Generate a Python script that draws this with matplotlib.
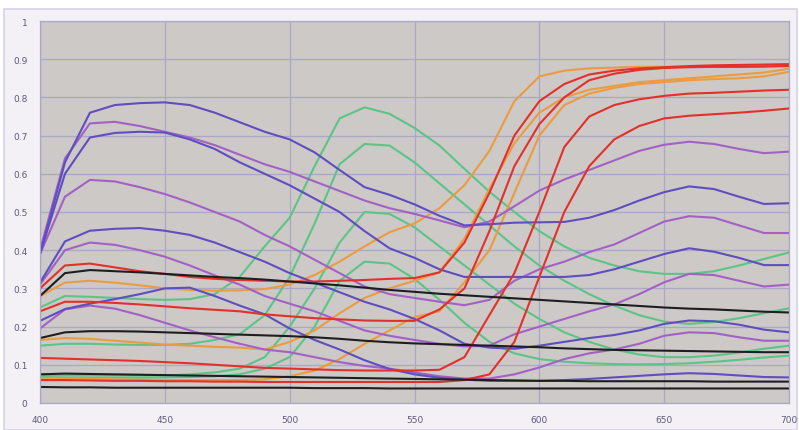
import matplotlib
matplotlib.use("Agg")
import matplotlib.pyplot as plt
from matplotlib.patches import Rectangle

# wavelength grid (nm)
wl = [400, 410, 420, 430, 440, 450, 460, 470, 480, 490, 500,
      510, 520, 530, 540, 550, 560, 570, 580, 590, 600,
      610, 620, 630, 640, 650, 660, 670, 680, 690, 700]

# blue-violet family
B1 = [.39, .63, .76, .78, .785, .787, .78, .76, .735, .71, .69,
      .656, .61, .565, .545, .52, .49, .465, .468, .472, .473,
      .474, .485, .505, .53, .552, .567, .56, .54, .521, .523]
B2 = [.39, .60, .695, .707, .71, .708, .69, .665, .63, .60, .57,
      .535, .50, .45, .405, .38, .35, .33, .33, .33, .33,
      .33, .335, .35, .37, .39, .405, .396, .38, .361, .361]
B3 = [.315, .423, .451, .456, .458, .451, .44, .42, .395, .37, .34,
      .315, .29, .265, .245, .22, .19, .155, .145, .142, .15,
      .16, .17, .178, .19, .207, .216, .214, .205, .192, .185]
B4 = [.215, .246, .26, .272, .285, .30, .302, .28, .255, .232, .195,
      .165, .14, .112, .089, .075, .066, .061, .058, .058, .058,
      .06, .063, .067, .071, .075, .078, .076, .072, .068, .067]

# purple family
P1 = [.40, .64, .732, .736, .725, .71, .695, .675, .65, .625, .605,
      .58, .555, .53, .51, .495, .478, .46, .475, .515, .556,
      .585, .61, .635, .66, .676, .684, .678, .665, .654, .658]
P2 = [.39, .54, .584, .58, .565, .547, .525, .50, .475, .44, .41,
      .375, .34, .305, .285, .275, .265, .256, .27, .32, .35,
      .37, .395, .415, .445, .475, .489, .485, .465, .445, .445]
P3 = [.31, .40, .42, .414, .40, .383, .36, .334, .31, .28, .26,
      .24, .215, .19, .176, .165, .155, .148, .15, .18, .20,
      .22, .24, .258, .285, .316, .338, .335, .32, .305, .31]
P4 = [.195, .245, .255, .247, .23, .21, .19, .172, .155, .14, .133,
      .12, .107, .097, .09, .08, .07, .064, .064, .075, .093,
      .115, .13, .14, .155, .176, .185, .183, .172, .163, .163]

# red family
R1 = [.30, .36, .365, .355, .345, .338, .33, .325, .322, .32, .318,
      .318, .32, .322, .325, .327, .342, .42, .55, .70, .79,
      .835, .86, .87, .876, .879, .882, .884, .885, .886, .887]
R2 = [.24, .265, .265, .262, .258, .253, .248, .244, .24, .232, .227,
      .222, .219, .216, .215, .215, .245, .30, .45, .62, .73,
      .80, .845, .862, .872, .877, .879, .88, .88, .881, .882]
R3 = [.118, .116, .114, .112, .11, .107, .104, .1, .096, .092, .09,
      .088, .086, .085, .085, .085, .087, .12, .23, .34, .50,
      .67, .75, .78, .795, .804, .81, .812, .815, .818, .82]
R4 = [.06, .06, .059, .058, .058, .057, .057, .056, .056, .055, .055,
      .055, .055, .055, .055, .055, .055, .06, .075, .16, .33,
      .50, .62, .69, .725, .745, .752, .756, .76, .765, .771]

# orange family
O1 = [.28, .315, .32, .315, .308, .30, .296, .294, .295, .298, .31,
      .335, .37, .41, .447, .47, .51, .57, .66, .79, .855,
      .87, .876, .878, .88, .88, .88, .88, .88, .88, .885]
O2 = [.165, .17, .168, .163, .158, .153, .15, .147, .145, .14, .16,
      .19, .235, .275, .30, .32, .342, .43, .56, .68, .76,
      .80, .82, .83, .84, .845, .85, .855, .86, .865, .875]
O3 = [.065, .064, .063, .062, .061, .06, .06, .06, .06, .062, .07,
      .085, .115, .155, .19, .225, .24, .316, .40, .55, .70,
      .78, .81, .825, .835, .84, .845, .848, .85, .855, .867]

# green family
G1 = [.25, .28, .278, .275, .272, .27, .272, .285, .33, .41, .485,
      .62, .745, .774, .757, .72, .674, .613, .553, .50, .45,
      .41, .38, .36, .345, .338, .338, .345, .36, .377, .394]
G2 = [.15, .155, .155, .153, .152, .152, .155, .165, .18, .23, .33,
      .47, .625, .678, .674, .63, .575, .52, .465, .41, .36,
      .32, .285, .255, .23, .213, .207, .212, .222, .235, .248]
G3 = [.07, .072, .072, .072, .072, .072, .075, .08, .09, .12, .20,
      .30, .42, .50, .495, .46, .41, .36, .31, .26, .22,
      .185, .16, .14, .127, .12, .12, .124, .132, .142, .15]
G4 = [.065, .066, .066, .066, .066, .067, .068, .07, .075, .09, .12,
      .20, .32, .37, .365, .325, .27, .21, .16, .13, .115,
      .108, .104, .102, .101, .102, .104, .108, .113, .119, .124]

# neutral (black) family
K1 = [.28, .34, .348, .345, .342, .338, .334, .33, .327, .323, .318,
      .313, .308, .302, .296, .291, .286, .282, .278, .274, .27,
      .266, .262, .258, .254, .25, .247, .245, .242, .239, .237]
K2 = [.17, .185, .188, .188, .187, .185, .183, .181, .179, .177, .175,
      .172, .168, .163, .159, .156, .154, .152, .15, .148, .146,
      .143, .141, .139, .138, .137, .136, .135, .134, .133, .133]
K3 = [.075, .077, .076, .075, .074, .073, .072, .071, .07, .069, .068,
      .067, .066, .065, .064, .063, .062, .061, .06, .059, .058,
      .058, .057, .057, .057, .057, .057, .056, .056, .056, .056]
K4 = [.042, .041, .041, .04, .04, .04, .04, .04, .04, .04, .04,
      .039, .039, .039, .038, .038, .038, .038, .038, .038, .038,
      .038, .038, .038, .038, .038, .038, .038, .038, .038, .038]

groups = [
    ([G1, G2, G3, G4], '#5cc487'),
    ([O1, O2, O3], '#eb9b40'),
    ([P1, P2, P3, P4], '#a361c6'),
    ([B1, B2, B3, B4], '#5e4ec0'),
    ([R1, R2, R3, R4], '#e3302a'),
    ([K1, K2, K3, K4], '#1e1e22'),
]

fig = plt.figure(figsize=(7.99, 4.31), dpi=100)
fig.patch.set_facecolor('white')
# light chart-area frame behind the plot
frame = Rectangle((4 / 799, 0.5 / 431), 793 / 799, 421 / 431,
                  transform=fig.transFigure, facecolor='#f3f1f6',
                  edgecolor='#d6d2e6', lw=1.2, zorder=-10)
fig.patches.append(frame)

ax = fig.add_axes([40 / 799, 27 / 431, 749 / 799, 382 / 431])
ax.set_zorder(5)
ax.set_facecolor('#ccc9c6')

for series, col in groups:
    for s in series:
        ax.plot(wl, s, color=col, lw=1.5, solid_joinstyle='round')

ax.set_xlim(400, 700)
ax.set_ylim(0, 1)
ax.set_xticks([400, 450, 500, 550, 600, 650, 700])
ax.set_yticks([i / 10 for i in range(11)])
ax.set_yticklabels(['0', '0.1', '0.2', '0.3', '0.4', '0.5', '0.6', '0.7', '0.8', '0.9', '1'])
ax.grid(True, color='#aba7c6', lw=0.9)
ax.set_axisbelow(True)
for sp in ax.spines.values():
    sp.set_color('#aba7c6')
    sp.set_linewidth(0.9)
ax.tick_params(length=0, labelsize=6.5, labelcolor='#5c5a80')
ax.tick_params(axis='y', pad=9)
ax.tick_params(axis='x', pad=9)

fig.savefig('out.png', dpi=100)
